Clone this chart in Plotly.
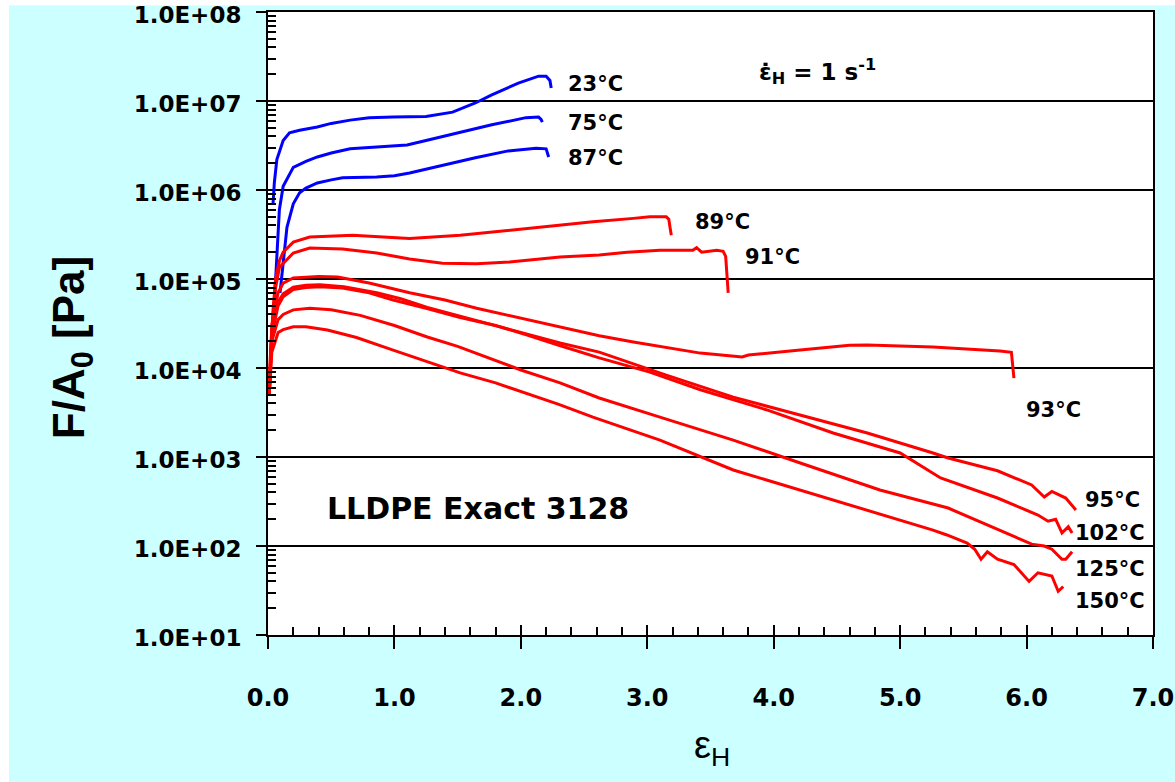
import plotly.graph_objects as go

# Hencky strain (eps) and engineering stress F/A0 (Pa) for each test temperature
eps_23 = [0.04, 0.05, 0.07, 0.12, 0.17, 0.25, 0.39, 0.5, 0.65, 0.8, 0.99, 1.25, 1.46, 1.64, 1.77, 1.98, 2.14, 2.20, 2.23, 2.24]
sig_23 = [7.1e5, 1.2e6, 2.2e6, 3.6e6, 4.4e6, 4.7e6, 5.1e6, 5.6e6, 6.1e6, 6.5e6, 6.6e6, 6.7e6, 7.5e6, 9.5e6, 1.17e7, 1.59e7, 1.9e7, 1.9e7, 1.7e7, 1.4e7]

eps_75 = [0.04, 0.055, 0.07, 0.09, 0.12, 0.2, 0.3, 0.39, 0.5, 0.65, 0.8, 0.99, 1.1, 1.25, 1.51, 1.77, 2.04, 2.14, 2.16, 2.17]
sig_75 = [2.9e4, 8e4, 2.3e5, 6e5, 1.1e6, 1.8e6, 2.1e6, 2.35e6, 2.6e6, 2.9e6, 3.0e6, 3.1e6, 3.2e6, 3.6e6, 4.4e6, 5.4e6, 6.5e6, 6.6e6, 6.2e6, 5.8e6]

eps_87 = [0.095, 0.12, 0.15, 0.2, 0.25, 0.3, 0.39, 0.5, 0.59, 0.86, 1.0, 1.12, 1.38, 1.64, 1.90, 2.12, 2.20, 2.21, 2.22]
sig_87 = [7e4, 1.6e5, 3.8e5, 7e5, 9.3e5, 1.05e6, 1.2e6, 1.3e6, 1.37e6, 1.4e6, 1.45e6, 1.55e6, 1.9e6, 2.3e6, 2.75e6, 2.95e6, 2.9e6, 2.6e6, 2.35e6]

eps_89 = [0.01, 0.02, 0.04, 0.06, 0.09, 0.12, 0.2, 0.33, 0.67, 1.12, 1.52, 2.05, 2.57, 2.89, 3.02, 3.15, 3.17, 3.18, 3.19]
sig_89 = [5.5e3, 1.5e4, 4.5e4, 1e5, 1.6e5, 2e5, 2.6e5, 2.96e5, 3.1e5, 2.85e5, 3.1e5, 3.7e5, 4.4e5, 4.8e5, 5e5, 5e5, 4.7e5, 3.8e5, 3.1e5]

eps_91 = [0.01, 0.02, 0.04, 0.06, 0.09, 0.2, 0.33, 0.59, 0.86, 1.12, 1.38, 1.65, 1.91, 2.31, 2.62, 2.84,
          3.10, 3.36, 3.39, 3.43, 3.55, 3.60, 3.62, 3.63, 3.64]
sig_91 = [5.5e3, 1.4e4, 4e4, 8e4, 1.35e5, 1.96e5, 2.23e5, 2.17e5, 1.96e5, 1.68e5, 1.5e5, 1.48e5, 1.55e5, 1.77e5, 1.86e5, 2.0e5,
          2.1e5, 2.1e5, 2.25e5, 2.0e5, 2.1e5, 2.05e5, 1.8e5, 1.2e5, 7e4]

eps_93 = [0.01, 0.03, 0.08, 0.12, 0.2, 0.33, 0.4, 0.55, 0.8, 1.12, 1.4, 1.65, 1.9, 2.17, 2.62, 2.89, 3.42, 3.75, 3.80,
          4.21, 4.60, 4.74, 5.26, 5.79, 5.88, 5.90]
sig_93 = [5e3, 3e4, 7e4, 9e4, 1.03e5, 1.06e5, 1.07e5, 1.05e5, 9e4, 7.0e4, 5.8e4, 4.7e4, 3.9e4, 3.2e4, 2.3e4, 1.96e4, 1.47e4, 1.33e4, 1.4e4,
          1.59e4, 1.8e4, 1.81e4, 1.72e4, 1.55e4, 1.5e4, 7.7e3]

eps_95 = [0.01, 0.03, 0.08, 0.12, 0.2, 0.3, 0.41, 0.6, 0.86, 1.05, 1.26, 1.5, 1.78, 2.0, 2.31, 2.62, 3.15, 3.68, 4.21, 4.74,
          5.26, 5.38, 5.77, 6.04, 6.14, 6.20, 6.31, 6.39]
sig_95 = [5e3, 2.5e4, 5.5e4, 6.8e4, 8.1e4, 8.5e4, 8.6e4, 8.2e4, 7.0e4, 6e4, 4.8e4, 3.9e4, 3.04e4, 2.5e4, 1.91e4, 1.51e4, 8.3e3, 4.7e3, 2.96e3, 1.86e3,
          1.11e3, 975, 700, 485, 355, 410, 346, 254]

eps_102 = [0.01, 0.03, 0.08, 0.12, 0.2, 0.3, 0.41, 0.59, 0.8, 0.99, 1.25, 1.52, 1.8, 2.05, 2.3, 2.62, 3.02, 3.42, 3.94, 4.47,
           5.0, 5.32, 5.77, 6.09, 6.17, 6.23, 6.28, 6.33, 6.36]
sig_102 = [5e3, 2.3e4, 5e4, 6.3e4, 7.6e4, 8.0e4, 8.2e4, 7.9e4, 7e4, 5.8e4, 4.7e4, 3.7e4, 3e4, 2.35e4, 1.8e4, 1.3e4, 9.0e3, 5.7e3, 3.4e3, 1.86e3,
           1.11e3, 581, 346, 223, 190, 200, 140, 165, 140]

eps_125 = [0.01, 0.03, 0.08, 0.12, 0.2, 0.33, 0.5, 0.73, 1.0, 1.26, 1.5, 1.78, 2.0, 2.31, 2.62, 3.10, 3.68, 4.21, 4.84, 5.38, 5.77,
           6.04, 6.14, 6.20, 6.28, 6.31, 6.36]
sig_125 = [5e3, 2e4, 3.5e4, 4e4, 4.5e4, 4.7e4, 4.5e4, 3.9e4, 3e4, 2.23e4, 1.75e4, 1.23e4, 9.5e3, 6.8e3, 4.6e3, 2.81e3, 1.55e3, 857, 426, 267, 155,
           105, 100, 92, 71, 71, 86]

eps_150 = [0.01, 0.03, 0.08, 0.12, 0.2, 0.3, 0.47, 0.7, 0.99, 1.25, 1.52, 1.8, 2.05, 2.3, 2.57, 3.10, 3.68, 4.21, 4.74, 5.26, 5.37, 5.53, 5.59,
           5.64, 5.69, 5.77, 5.90, 6.02, 6.09, 6.20, 6.25, 6.29]
sig_150 = [5e3, 1.5e4, 2.5e4, 2.7e4, 2.9e4, 2.9e4, 2.67e4, 2.2e4, 1.59e4, 1.2e4, 8.8e3, 6.8e3, 5.2e3, 3.9e3, 2.81e3, 1.55e3, 715, 426, 254, 151, 133, 108, 92,
           71, 86, 71, 62, 40, 50, 46, 31, 35]

temp_labels = ["23°C", "75°C", "87°C", "89°C", "91°C", "93°C", "95°C", "102°C", "125°C", "150°C"]

y_tick_vals = [1e1, 1e2, 1e3, 1e4, 1e5, 1e6, 1e7, 1e8]
y_tick_text = ["1.0E+01", "1.0E+02", "1.0E+03", "1.0E+04", "1.0E+05", "1.0E+06", "1.0E+07", "1.0E+08"]
x_tick_vals = [0, 1, 2, 3, 4, 5, 6, 7]
x_tick_text = ["0.0", "1.0", "2.0", "3.0", "4.0", "5.0", "6.0", "7.0"]

BLUE = "#0000ff"
RED = "#ff0000"
BG = "#ccffff"

curves = [
    (eps_23, sig_23, BLUE), (eps_75, sig_75, BLUE), (eps_87, sig_87, BLUE),
    (eps_89, sig_89, RED), (eps_91, sig_91, RED), (eps_93, sig_93, RED),
    (eps_95, sig_95, RED), (eps_102, sig_102, RED), (eps_125, sig_125, RED),
    (eps_150, sig_150, RED),
]

fig = go.Figure()
for xs, ys, col in curves:
    fig.add_trace(go.Scatter(x=xs, y=ys, mode="lines",
                             line=dict(color=col, width=3), hoverinfo="skip"))

# empty trace so the overlay axis (upward half of the major x ticks) is drawn
fig.add_trace(go.Scatter(x=[], y=[], xaxis="x2", yaxis="y", showlegend=False))

bold = dict(family="DejaVu Sans", size=21, color="black", weight="bold")

# temperature labels, placed beside the end of each curve (x in strain, y in log10 Pa)
label_pos = [(2.358, 7.19), (2.358, 6.753), (2.358, 6.36), (3.36, 5.64), (3.755, 5.247),
             (5.976, 3.528), (6.443, 2.517), (6.364, 2.146), (6.364, 1.742), (6.364, 1.382)]
for txt, (lx, ly) in zip(temp_labels, label_pos):
    fig.add_annotation(x=lx, y=ly, text=txt, showarrow=False, xanchor="left", yanchor="middle",
                       font=bold)

fig.add_annotation(x=0.451, y=2.427, text="LLDPE Exact 3128", showarrow=False,
                   xanchor="left", yanchor="middle",
                   font=dict(family="DejaVu Sans", size=30, color="black", weight="bold"))
fig.add_annotation(x=3.866, y=7.326, text="ε̇<sub>H</sub> = 1 s<sup>-1</sup>", showarrow=False,
                   xanchor="left", yanchor="middle",
                   font=dict(family="DejaVu Sans", size=23, color="black", weight="bold"))

# axis titles
fig.add_annotation(xref="paper", yref="paper", x=-0.2215, y=0.462, text="F/A<sub>0</sub> [Pa]",
                   showarrow=False, textangle=-90, xanchor="center", yanchor="middle",
                   font=dict(family="Liberation Sans", size=44, color="black", weight="bold"))
fig.add_annotation(xref="paper", yref="paper", x=0.502, y=-0.181, text="ε<sub>H</sub>",
                   showarrow=False, xanchor="center", yanchor="middle",
                   font=dict(family="Liberation Sans", size=38, color="black"))

# thin white strips at the top and left edge of the page
fig.add_shape(type="rect", xref="paper", yref="paper", x0=-0.31, x1=1.03, y0=1.011, y1=1.03,
              fillcolor="white", line=dict(width=0), layer="below")
fig.add_shape(type="rect", xref="paper", yref="paper", x0=-0.31, x1=-0.2926, y0=-0.3, y1=1.03,
              fillcolor="white", line=dict(width=0), layer="below")

y_minor = [m * 10 ** d for d in range(1, 8) for m in range(2, 10)]
x_minor = [i * 0.2 for i in range(36) if i % 5 != 0]

fig.update_layout(
    width=1175, height=782, autosize=False,
    margin=dict(l=268, r=22, t=12, b=147, autoexpand=False),
    paper_bgcolor=BG, plot_bgcolor="white",
    showlegend=False,
    xaxis=dict(range=[0, 7], tickvals=x_tick_vals, ticktext=x_tick_text, automargin=False,
               ticks="outside", ticklen=12, tickwidth=2, tickcolor="black",
               showgrid=False, zeroline=False, ticklabeloverflow="allow",
               showline=True, linecolor="black", linewidth=2, mirror=True,
               tickfont=dict(family="DejaVu Sans", size=24, color="black", weight="bold"),
               ticklabelstandoff=28,
               minor=dict(tickvals=x_minor, ticks="inside", ticklen=8, tickwidth=1.5,
                          tickcolor="black", showgrid=False)),
    xaxis2=dict(range=[0, 7], overlaying="x", anchor="y", side="bottom", automargin=False,
                tickvals=x_tick_vals, ticks="inside", ticklen=10, tickwidth=2, tickcolor="black",
                showticklabels=False, showgrid=False, zeroline=False, showline=False),
    yaxis=dict(type="log", range=[1, 8], tickvals=y_tick_vals, ticktext=y_tick_text, automargin=False,
               ticks="outside", ticklen=10, tickwidth=2, tickcolor="black",
               showgrid=True, gridcolor="black", gridwidth=1.5, zeroline=False,
               ticklabeloverflow="allow", ticklabelshift=3,
               showline=True, linecolor="black", linewidth=2, mirror=True,
               tickfont=dict(family="DejaVu Sans", size=23, color="black", weight="bold"),
               ticklabelstandoff=10,
               minor=dict(tickvals=y_minor, ticks="inside", ticklen=8, tickwidth=2,
                          tickcolor="black", showgrid=False)),
)

fig.write_html("out.html")
